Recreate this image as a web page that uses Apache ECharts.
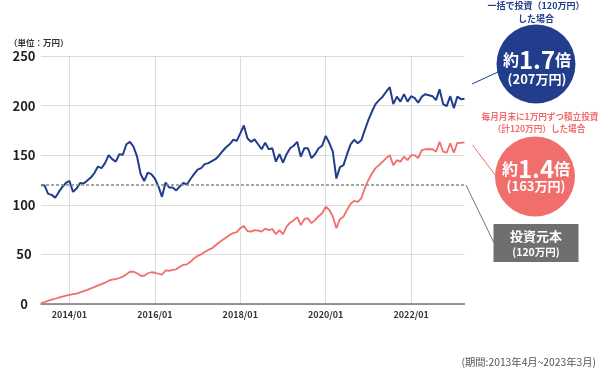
<!DOCTYPE html>
<html><head><meta charset="utf-8">
<script src="https://cdn.jsdelivr.net/npm/echarts@6/dist/echarts.min.js"></script>
<style>html,body{margin:0;padding:0;background:#fff}#c{width:600px;height:371px}</style>
</head><body><div id="c"></div>
<script>
// Period: 2013/04 .. 2023/03, month-end valuations (万円)
const firstMonth = '2013/04';
const lumpSum = [
  120,119.5,111,110,107,113,118,122,124,113,
  116.5,122,121.5,124.5,127.5,132,138.5,137,142,150,
  146,143.5,151,150.5,161,163.5,158.5,148.5,131,124,
  132.5,131,126.5,118.5,108,122.5,117.5,117.5,114.5,118.5,
  122,120.5,126,131,135.5,137,141,142,144,146,
  149.5,154,158,161,165.5,164.5,172,180,167,163.5,
  166,161,156,162.5,156,157,143.5,151,142.5,151,
  157,159.5,163.5,148.5,157,157,147,151,157,159.5,
  169.5,162.5,153.5,126.5,138,140,151,161,165.5,162,
  165,175.5,185.5,194,201.5,205.5,209,214,218.5,201.5,
  209,204,211.5,204,209.5,207.5,203,209,211.5,210.5,
  209.5,205.5,216.5,201.5,199.5,209.5,197.5,209,206.5,207
];
const monthly = [
  1,2,3.2,4.3,5.3,6.4,7.5,8.5,9.2,10,
  10.5,11.8,13,14.3,15.8,17,18.8,20,21.5,23.5,
  24.5,25,26.2,27.5,30,32.5,32.5,31,28.5,28.5,
  31,32,31.5,30.5,29.5,34,33.5,34.5,35,37.5,
  39.5,40,42.5,46,48.5,50,52.5,54.5,56,59,
  62,64.5,67,69.5,71.5,72.5,76.5,78.5,73.5,73,
  74.5,74,73,76,74.5,75.5,70.5,74.5,70.5,78,
  82,84.5,87.5,79.5,85.5,86.5,81.5,84.5,88.5,91.5,
  98,95,88,76.5,85.5,88,95,101,104,103,
  106.5,117,125,131.5,137,140,143.5,147,150,140,
  145,143.5,148.5,145,150,150,147,155,156,156,
  156,153.5,163.5,153.5,152.5,162,152.5,162.5,162.5,163
];
const principal = 120;
const xTickLabels = ['2014/01','2016/01','2018/01','2020/01','2022/01'];
const yTicks = [0,50,100,150,200,250];

// month labels
const [fy, fm] = firstMonth.split('/').map(Number);
const months = lumpSum.map((_, i) => {
  const t = fy * 12 + (fm - 1) + i;
  return Math.floor(t / 12) + '/' + String(t % 12 + 1).padStart(2, '0');
});
// month-end position on a year scale
const monthEnd = s => { const [y, m] = s.split('/').map(Number); return y + m / 12; };
const monthStart = s => { const [y, m] = s.split('/').map(Number); return y + (m - 1) / 12; };
const xs = months.map(monthEnd);
const tickVals = xTickLabels.map(monthStart);

const FONT = '"Noto Sans CJK JP", "Noto Sans", sans-serif';
const NAVY = '#213d8b', RED = '#f06e6c', GRAY = '#6f6f72';

const chart = echarts.init(document.getElementById('c'), null, {renderer: 'canvas'});
chart.setOption({
  animation: false,
  textStyle: {fontFamily: FONT},
  grid: {left: 41, right: 135.5, top: 56, bottom: 67, containLabel: false},
  xAxis: {
    type: 'value', min: xs[0], max: xs[xs.length - 1],
    axisLine: {show: true, lineStyle: {color: '#777', width: 1.5}},
    axisTick: {show: false, customValues: tickVals},
    axisLabel: {
      customValues: tickVals, margin: 6, fontSize: 9, fontWeight: 'bold', color: '#333', fontFamily: FONT,
      formatter: v => xTickLabels[tickVals.findIndex(t => Math.abs(t - v) < 1e-6)] || ''
    },
    splitLine: {show: true, lineStyle: {color: '#dcdcdc', width: 1}}
  },
  yAxis: {
    type: 'value', min: yTicks[0], max: yTicks[yTicks.length - 1], interval: yTicks[1] - yTicks[0],
    axisLine: {show: false}, axisTick: {show: false},
    axisLabel: {margin: 17, align: 'center', fontSize: 13, fontWeight: 'bold', color: '#222', fontFamily: FONT},
    splitLine: {lineStyle: {color: '#dcdcdc', width: 1}}
  },
  series: [
    {
      name: '一括投資', type: 'line', showSymbol: false, symbol: 'none',
      data: xs.map((x, i) => [x, lumpSum[i]]),
      lineStyle: {color: NAVY, width: 2}, z: 4,
      markLine: {
        silent: true, symbol: 'none', label: {show: false},
        lineStyle: {color: '#888', type: [3, 2], width: 1.5},
        data: [{yAxis: principal}]
      }
    },
    {
      name: '積立投資', type: 'line', showSymbol: false, symbol: 'none',
      data: xs.map((x, i) => [x, monthly[i]]),
      lineStyle: {color: RED, width: 1.8}, z: 3
    }
  ],
  graphic: [
    {type: 'text', x: 9, y: 43, style: {text: '（単位：万円）', font: 'bold 8.5px ' + FONT, fill: '#333', verticalAlign: 'middle'}},
    // lump sum annotation
    {type: 'text', x: 536, y: 6, style: {text: '一括で投資（120万円）', font: 'bold 9px ' + FONT, fill: NAVY, align: 'center', verticalAlign: 'middle'}},
    {type: 'text', x: 536, y: 18.5, style: {text: 'した場合', font: 'bold 9px ' + FONT, fill: NAVY, align: 'center', verticalAlign: 'middle'}},
    {type: 'line', shape: {x1: 472, y1: 84, x2: 498, y2: 72}, style: {stroke: NAVY, lineWidth: 1}},
    {type: 'circle', shape: {cx: 536, cy: 64, r: 39.5}, style: {fill: NAVY}},
    {type: 'text', x: 537, y: 60, style: {
      text: '{a|約}{b|1.7}{a|倍}', align: 'center', verticalAlign: 'middle',
      rich: {a: {font: 'bold 16px ' + FONT, fill: '#fff'}, b: {font: 'bold 24px ' + FONT, fill: '#fff'}}}},
    {type: 'text', x: 537, y: 79, style: {text: '(207万円)', font: 'bold 13px ' + FONT, fill: '#fff', align: 'center', verticalAlign: 'middle'}},
    // monthly annotation
    {type: 'text', x: 540, y: 116.5, style: {text: '毎月月末に1万円ずつ積立投資', font: 'bold 8.6px ' + FONT, fill: RED, align: 'center', verticalAlign: 'middle'}},
    {type: 'text', x: 539, y: 128.5, style: {text: '（計120万円）した場合', font: 'bold 8.6px ' + FONT, fill: RED, align: 'center', verticalAlign: 'middle'}},
    {type: 'line', shape: {x1: 472.5, y1: 145, x2: 496, y2: 176}, style: {stroke: RED, lineWidth: 1}},
    {type: 'circle', shape: {cx: 535, cy: 176.5, r: 40}, style: {fill: RED}},
    {type: 'text', x: 536, y: 168.5, style: {
      text: '{a|約}{b|1.4}{a|倍}', align: 'center', verticalAlign: 'middle',
      rich: {a: {font: 'bold 16px ' + FONT, fill: '#fff'}, b: {font: 'bold 24px ' + FONT, fill: '#fff'}}}},
    {type: 'text', x: 536, y: 186, style: {text: '(163万円)', font: 'bold 13px ' + FONT, fill: '#fff', align: 'center', verticalAlign: 'middle'}},
    // principal annotation
    {type: 'line', shape: {x1: 466, y1: 185, x2: 494, y2: 243}, style: {stroke: '#777', lineWidth: 1}},
    {type: 'rect', shape: {x: 493.5, y: 224, width: 85, height: 38}, style: {fill: GRAY}},
    {type: 'text', x: 536, y: 236.5, style: {text: '投資元本', font: 'bold 13px ' + FONT, fill: '#fff', align: 'center', verticalAlign: 'middle'}},
    {type: 'text', x: 536, y: 252, style: {text: '(120万円)', font: 'bold 10.5px ' + FONT, fill: '#fff', align: 'center', verticalAlign: 'middle'}},
    {type: 'text', x: 596, y: 362.5, style: {text: '(期間:2013年4月~2023年3月)', font: '10.3px ' + FONT, fill: '#555', align: 'right', verticalAlign: 'middle'}}
  ]
});
</script>
</body></html>
